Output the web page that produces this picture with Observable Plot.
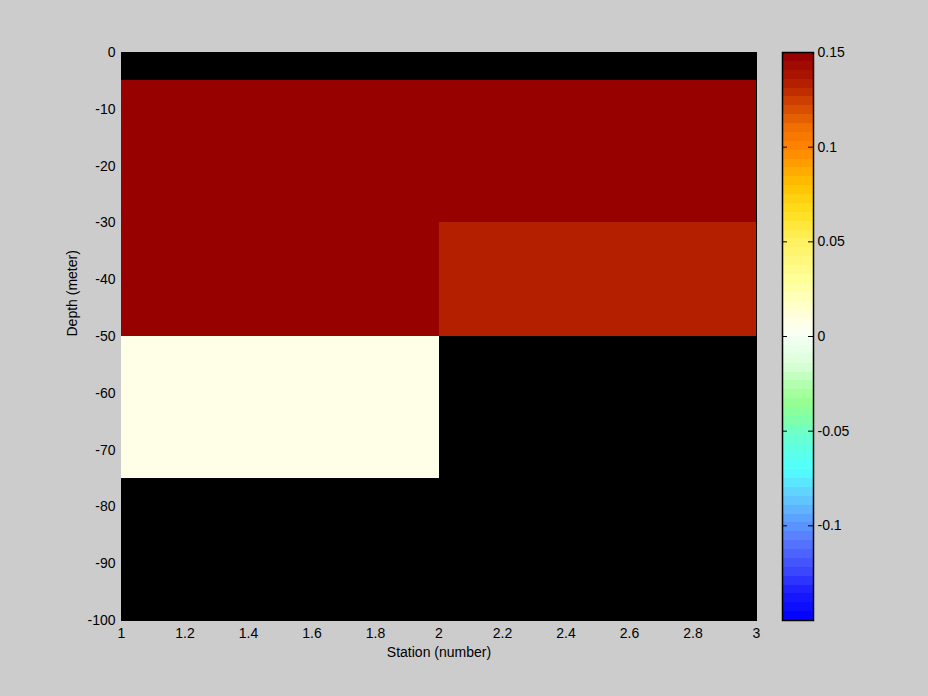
<!DOCTYPE html>
<html>
<head>
<meta charset="utf-8">
<script src="https://cdn.jsdelivr.net/npm/d3@7"></script>
<script src="https://cdn.jsdelivr.net/npm/@observablehq/plot@0.6"></script>
<style>
  html, body { margin: 0; padding: 0; background: #cccccc; }
  #wrap { position: relative; width: 928px; height: 696px; background: #cccccc; overflow: hidden; }
  #wrap > svg { position: absolute; left: 0; top: 0; }
</style>
</head>
<body>
<div id="wrap"></div>
<script>
// ---- data ----
const stations = [1, 2, 3];
const depths = [0, -5, -30, -50, -75, -100];
const station1Values = [NaN, 0.15, 0.15, 0.006, NaN];
const station2Values = [NaN, 0.15, 0.133, NaN, NaN];
const xTicks = [1, 1.2, 1.4, 1.6, 1.8, 2, 2.2, 2.4, 2.6, 2.8, 3];
const yTicks = [0, -10, -20, -30, -40, -50, -60, -70, -80, -90, -100];
const colorTicks = [0.15, 0.1, 0.05, 0, -0.05, -0.1];
const colorLimits = [-0.15, 0.15];
const colorLevels = 64;
// colormap anchors (value -> colour)
const anchorValues = [-0.15, -0.134, -0.124, -0.113, -0.106, -0.099, -0.09, -0.081, -0.071, -0.058, -0.05, -0.044, -0.034, -0.015, 0, 0.007, 0.016, 0.03, 0.05, 0.065, 0.08, 0.09, 0.1, 0.11, 0.12, 0.135, 0.148];
const anchorColors = ["#0000ff", "#2020ff", "#3c48ff", "#5068ff", "#5a80ff", "#5a98ff", "#60b8ff", "#60d8ff", "#50ffff", "#60ffe0", "#70ffc8", "#80ffa8", "#98ff90", "#d8ffd8", "#f6fff6", "#ffffe8", "#ffffc8", "#ffff98", "#fff060", "#ffe020", "#ffc000", "#ffa000", "#ff8400", "#f07000", "#d84c00", "#b01a00", "#960000"];

// ---- build tables ----
const seriesValues = [station1Values, station2Values];
const cells = [];
for (let s = 0; s < stations.length - 1; s++) {
  for (let d = 0; d < depths.length - 1; d++) {
    const v = seriesValues[s][d];
    if (!Number.isNaN(v)) cells.push({x1: stations[s], x2: stations[s + 1], y1: depths[d], y2: depths[d + 1], v});
  }
}
const step = (colorLimits[1] - colorLimits[0]) / colorLevels;
const interp = d3.scaleLinear().domain(anchorValues).range(anchorColors).interpolate(d3.interpolateRgb).clamp(true);
const bands = d3.range(colorLevels).map(i => ({lo: colorLimits[0] + i * step, hi: colorLimits[0] + (i + 1) * step, mid: colorLimits[0] + (i + 0.5) * step}));
const thresholds = bands.slice(1).map(b => b.lo);
const palette = bands.map(b => interp(b.mid));
const colorScale = {type: "threshold", domain: thresholds, range: palette};

const font = "Liberation Sans, Arial, Helvetica, sans-serif";
const W = 928, H = 696;

// ---- main plot ----
const main = Plot.plot({
  width: W, height: H,
  marginLeft: 121, marginRight: 172, marginTop: 52, marginBottom: 76,
  style: {background: "transparent", fontFamily: font, fontSize: "14px", color: "black", overflow: "visible"},
  x: {domain: [1, 3], ticks: xTicks, tickSize: 0, tickPadding: 8, tickFormat: d => String(d), label: null},
  y: {domain: [-100, 0], ticks: yTicks, tickSize: 0, tickPadding: 6, tickFormat: d => String(d), label: null},
  color: colorScale,
  marks: [
    Plot.frame({fill: "black", stroke: "black"}),
    Plot.rect(cells, {x1: "x1", x2: "x2", y1: "y1", y2: "y2", fill: "v", shapeRendering: "crispEdges"}),
    Plot.text(["Station (number)"], {frameAnchor: "bottom", dy: 36, fill: "black", fontSize: 14}),
    Plot.text(["Depth (meter)"], {frameAnchor: "left", dx: -49, rotate: -90, fill: "black", fontSize: 14})
  ]
});
document.getElementById("wrap").appendChild(main);

// ---- colorbar ----
const cbar = Plot.plot({
  width: W, height: H,
  marginLeft: 782, marginRight: 115, marginTop: 52, marginBottom: 76,
  style: {background: "transparent", fontFamily: font, fontSize: "14px", color: "black", overflow: "visible"},
  x: {domain: [0, 1], axis: null},
  y: {domain: colorLimits, ticks: colorTicks, axis: "right", tickSize: 0, tickPadding: 4, tickFormat: d => String(d), label: null},
  color: colorScale,
  marks: [
    Plot.rect(bands, {x1: 0, x2: 1, y1: "lo", y2: "hi", fill: "mid", inset: 0, shapeRendering: "crispEdges"}),
    Plot.ruleY(colorTicks, {x1: 0, x2: 0.16, stroke: "black"}),
    Plot.ruleY(colorTicks, {x1: 0.84, x2: 1, stroke: "black"}),
    Plot.frame({stroke: "black", strokeWidth: 1.5})
  ]
});
document.getElementById("wrap").appendChild(cbar);
</script>
</body>
</html>
